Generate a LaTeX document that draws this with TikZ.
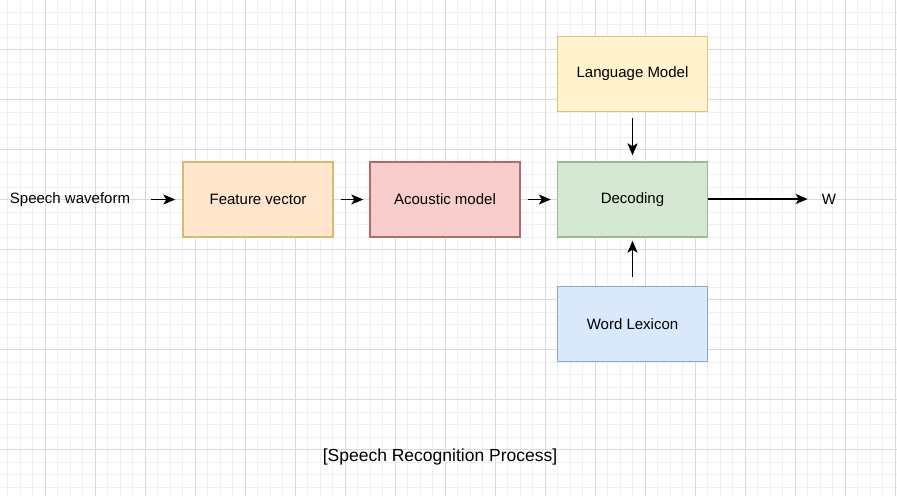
\documentclass[tikz,border=0pt]{standalone}
\usepackage{fontspec}
\setmainfont{Liberation Sans}
\usetikzlibrary{arrows.meta}
\definecolor{minorg}{HTML}{F0F0F0}
\definecolor{majorg}{HTML}{DADADA}
\definecolor{fvfill}{HTML}{FFE6CC}\definecolor{fvdraw}{HTML}{DDB66F}
\definecolor{amfill}{HTML}{F8CECC}\definecolor{amdraw}{HTML}{B26B6B}
\definecolor{defill}{HTML}{D5E8D4}\definecolor{dedraw}{HTML}{9DB893}
\definecolor{lmfill}{HTML}{FFF2CC}\definecolor{lmdraw}{HTML}{DCC27A}
\definecolor{wlfill}{HTML}{DAE8FC}\definecolor{wldraw}{HTML}{8FA6CF}
\tikzset{
  blockbox/.style={rectangle, minimum width=150pt, minimum height=75pt, line width=1.4pt, font=\fontsize{15pt}{18pt}\selectfont, inner sep=0pt},
  plain/.style={inner sep=0pt, font=\fontsize{15pt}{18pt}\selectfont},
  flow/.style={line width=1.3pt, -{Stealth[length=12pt,width=10pt,inset=3pt]}},
}
\begin{document}
\begin{tikzpicture}[x=1pt,y=-1pt]
\useasboundingbox (0,0) rectangle (897,496);
\fill[white] (0,0) rectangle (897,496);
% minor grid
\foreach \i in {0,...,72} {\draw[minorg, line width=0.8pt] (7.5+12.5*\i,0) -- (7.5+12.5*\i,496);}
\foreach \j in {0,...,40} {\draw[minorg, line width=0.8pt] (0,-0.5+12.5*\j) -- (897,-0.5+12.5*\j);}
% major grid
\foreach \i in {0,...,17} {\draw[majorg, line width=1pt] (45.5+50*\i,0) -- (45.5+50*\i,496);}
\foreach \j in {0,...,9} {\draw[majorg, line width=1pt] (0,49.5+50*\j) -- (897,49.5+50*\j);}

\node[plain] (sw) at (70,199.5) {Speech waveform};
\node[blockbox, fill=fvfill, draw=fvdraw] (fv) at (258,199.5) {Feature vector};
\node[blockbox, fill=amfill, draw=amdraw] (am) at (445,199.5) {Acoustic model};
\node[blockbox, fill=defill, draw=dedraw] (de) at (632.5,199.5) {Decoding};
\node[blockbox, fill=lmfill, draw=lmdraw] (lm) at (632.5,74) {Language Model};
\node[blockbox, fill=wlfill, draw=wldraw] (wl) at (632.5,324) {Word Lexicon};
\node[plain] (w) at (829,199) {W};
\node[inner sep=0pt, font=\fontsize{17.5pt}{21pt}\selectfont] (title) at (440,456.5) {[Speech Recognition Process]};

\draw[flow, shorten <=21pt, shorten >=7pt] (sw.east) -- (sw.east -| fv.west);
\draw[flow, shorten <=7pt, shorten >=6pt] (fv) -- (am);
\draw[flow, shorten <=7pt, shorten >=6pt] (am) -- (de);
\draw[flow, shorten >=14pt] (de.east |- w.west) -- (w.west);
\draw[flow, shorten <=6pt, shorten >=6pt] (lm) -- (de);
\draw[flow, shorten <=9pt, shorten >=3pt] (wl) -- (de);
\end{tikzpicture}
\end{document}
